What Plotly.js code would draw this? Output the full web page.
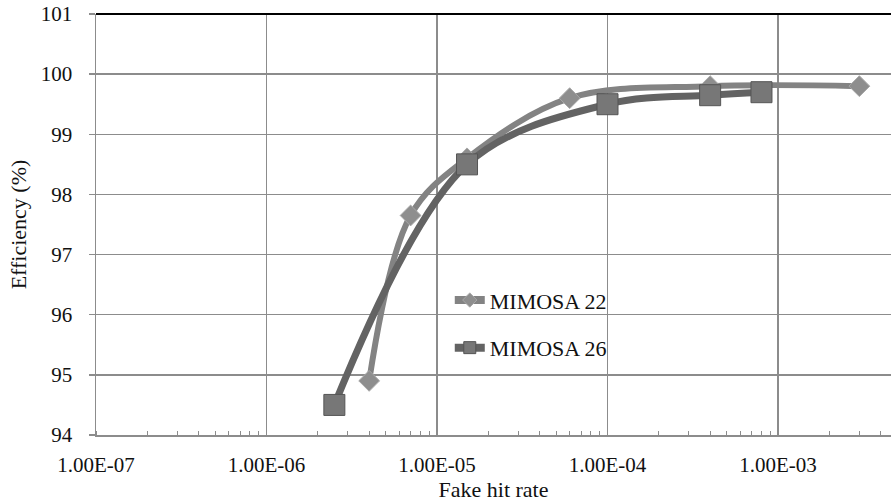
<!DOCTYPE html>
<html>
<head>
<meta charset="utf-8">
<script src="https://cdn.plot.ly/plotly-3.0.1.min.js"></script>
<style>html,body{margin:0;padding:0;background:#fff;}#chart{width:891px;height:504px;}</style>
</head>
<body>
<div id="chart"></div>
<script>
// Data
const m22_rate = [4.0e-6, 7.0e-6, 1.5e-5, 6.0e-5, 4.0e-4, 3.0e-3];
const m22_eff  = [94.9, 97.65, 98.6, 99.6, 99.8, 99.8];
const m26_rate = [2.5e-6, 1.5e-5, 1.0e-4, 4.0e-4, 8.0e-4];
const m26_eff  = [94.5, 98.5, 99.5, 99.65, 99.7];
const seriesNames = ["MIMOSA 22", "MIMOSA 26"];
const xTickVals = [1e-7, 1e-6, 1e-5, 1e-4, 1e-3];
const xTickText = ["1.00E-07", "1.00E-06", "1.00E-05", "1.00E-04", "1.00E-03"];
const yTickVals = [94, 95, 96, 97, 98, 99, 100, 101];

const serif = "Liberation Serif, Times New Roman, serif";
const grid = "#8c8c8c";
const c22 = {line: "#838383", fill: "#8e8e8e", edge: "#a8a8a8"};
const c26 = {line: "#636363", fill: "#777777", edge: "#555555"};

const traces = [
  {
    x: m22_rate, y: m22_eff, name: seriesNames[0], type: "scatter", mode: "lines+markers",
    showlegend: false,
    line: {color: c22.line, width: 6, shape: "spline", smoothing: 1},
    marker: {symbol: "diamond", size: 16, color: c22.fill, line: {color: c22.edge, width: 1}}
  },
  {
    x: m26_rate, y: m26_eff, name: seriesNames[1], type: "scatter", mode: "lines+markers",
    showlegend: false,
    line: {color: c26.line, width: 7, shape: "spline", smoothing: 1},
    marker: {symbol: "square", size: 21, color: c26.fill, line: {color: c26.edge, width: 1}}
  },
  // legend entries (smaller markers, thick lines, like the reference legend)
  {
    x: [null], y: [null], name: seriesNames[0], type: "scatter", mode: "lines+markers",
    legendgroup: "a",
    line: {color: c22.line, width: 8},
    marker: {symbol: "diamond", size: 11, color: c22.fill, line: {color: c22.edge, width: 1}}
  },
  {
    x: [null], y: [null], name: seriesNames[1], type: "scatter", mode: "lines+markers",
    legendgroup: "b",
    line: {color: c26.line, width: 8},
    marker: {symbol: "square", size: 12, color: c26.fill, line: {color: c26.edge, width: 1}}
  }
];

const layout = {
  width: 891, height: 504,
  margin: {l: 96, r: 0, t: 14, b: 69},
  paper_bgcolor: "#ffffff", plot_bgcolor: "#ffffff",
  font: {family: serif, size: 21, color: "#111"},
  showlegend: true,
  legend: {
    x: 0.445, y: 0.37, xanchor: "left", yanchor: "top",
    bgcolor: "rgba(0,0,0,0)", font: {family: serif, size: 22, color: "#111"},
    traceorder: "grouped", tracegroupgap: 16
  },
  xaxis: {
    type: "log", range: [-7, -7 + 795 / 170.5],
    tickvals: xTickVals, ticktext: xTickText,
    showgrid: true, gridcolor: grid, gridwidth: 1.5,
    showline: true, linecolor: grid, linewidth: 1.5,
    ticks: "", ticklabelstandoff: 10,
    minor: {ticks: "inside", ticklen: 4, tickcolor: grid, tickwidth: 1, showgrid: false, dtick: "D1"},
    zeroline: false,
    title: {text: "Fake hit rate", font: {family: serif, size: 22}, standoff: 3},
    tickfont: {family: serif, size: 21}
  },
  yaxis: {
    range: [94, 101], tickvals: yTickVals,
    showgrid: true, gridcolor: grid, gridwidth: 1.5,
    showline: true, linecolor: grid, linewidth: 1.5,
    ticks: "outside", ticklen: 6, tickcolor: grid, tickwidth: 1.5,
    ticklabelstandoff: 12,
    zeroline: false,
    title: {text: "Efficiency (%)", font: {family: serif, size: 22}, standoff: 8},
    tickfont: {family: serif, size: 21}
  },
  shapes: [
    {type: "line", xref: "paper", yref: "paper", x0: 0, x1: 1, y0: 1, y1: 1,
     line: {color: "#000", width: 2}}
  ]
};

Plotly.newPlot("chart", traces, layout, {displayModeBar: false, staticPlot: true});
</script>
</body>
</html>
